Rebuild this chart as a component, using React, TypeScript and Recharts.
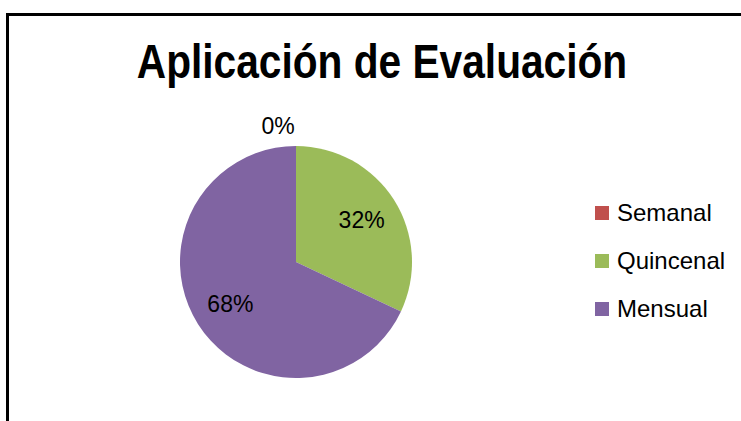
import React from "react";
import { PieChart, Pie, Cell, Legend } from "recharts";

const categories = ["Semanal", "Quincenal", "Mensual"];
const values = [0, 32, 68];
const colors = ["#C0504D", "#9BBB59", "#8064A2"];
const title = "Aplicación de Evaluación";

const data = categories.map((name, i) => ({ name, value: values[i] }));

const FONT = "'Liberation Sans', Arial, sans-serif";
const RAD = Math.PI / 180;

const renderLabel = (props: any) => {
  const { cx, cy, midAngle, outerRadius, percent, index } = props;
  const pct = `${Math.round(percent * 100)}%`;
  let x: number, y: number;
  if (values[index] === 0) {
    x = cx - 18;
    y = cy - outerRadius - 20;
  } else {
    const r = outerRadius * 0.67;
    x = cx + r * Math.cos(-midAngle * RAD);
    y = cy + r * Math.sin(-midAngle * RAD);
  }
  return (
    <text
      key={`lbl-${index}`}
      x={x}
      y={y}
      textAnchor="middle"
      dominantBaseline="central"
      fill="#000"
      fontSize={23}
      fontFamily={FONT}
    >
      {pct}
    </text>
  );
};

const renderLegend = () => {
  return (
    <div style={{ fontFamily: FONT }}>
      {data.map((d, i) => (
        <div
          key={d.name}
          style={{ display: "flex", alignItems: "center", height: 48 }}
        >
          <div
            style={{
              width: 14,
              height: 14,
              background: colors[i],
              marginRight: 8,
            }}
          />
          <span style={{ fontSize: 24, color: "#000" }}>{d.name}</span>
        </div>
      ))}
    </div>
  );
};

export default function App() {
  return (
    <div
      style={{
        position: "absolute",
        left: 0,
        top: 0,
        width: 741,
        height: 421,
        background: "#fff",
        overflow: "hidden",
      }}
    >
      <div
        style={{
          position: "absolute",
          left: 6,
          top: 13,
          width: 800,
          height: 500,
          border: "3px solid #000",
          boxSizing: "border-box",
        }}
      />
      <div
        style={{
          position: "absolute",
          left: 2,
          top: 33,
          width: 760,
          textAlign: "center",
          fontFamily: FONT,
          fontWeight: "bold",
          fontSize: 49,
          lineHeight: "56px",
          color: "#000",
          transform: "scaleX(0.83)",
          transformOrigin: "380px 0",
        }}
      >
        {title}
      </div>
      <div style={{ position: "absolute", left: 0, top: 0 }}>
        <PieChart width={741} height={421} margin={{ top: 0, right: 0, bottom: 0, left: 0 }}>
          <Pie
            data={data}
            dataKey="value"
            nameKey="name"
            cx={296}
            cy={262}
            outerRadius={116}
            startAngle={90}
            endAngle={-270}
            stroke="none"
            label={renderLabel}
            labelLine={false}
            isAnimationActive={false}
          >
            {data.map((d, i) => (
              <Cell key={d.name} fill={colors[i]} />
            ))}
          </Pie>
          <Legend
            layout="vertical"
            content={renderLegend}
            wrapperStyle={{ position: "absolute", left: 595, top: 189, width: 146 }}
          />
        </PieChart>
      </div>
    </div>
  );
}
